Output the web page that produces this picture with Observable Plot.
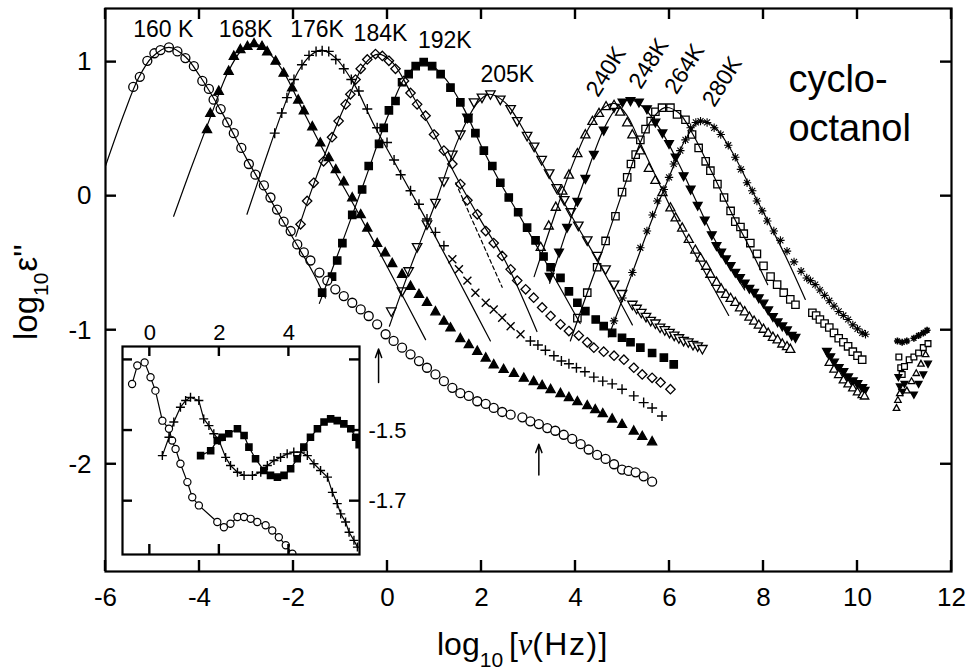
<!DOCTYPE html>
<html>
<head>
<meta charset="utf-8">
<script src="https://cdn.jsdelivr.net/npm/d3@7"></script>
<script src="https://cdn.jsdelivr.net/npm/@observablehq/plot@0.6"></script>
<style>
  html, body { margin: 0; padding: 0; background: white; }
  #fig { position: relative; width: 969px; height: 672px; overflow: hidden; }
  #fig > svg { position: absolute; }
</style>
</head>
<body>
<div id="fig"></div>
<script>
// ---------- axis ticks ----------
const xTicks = [-6, -4, -2, 0, 2, 4, 6, 8, 10, 12];
const yTicks = [-2, -1, 0, 1];
const insetXTicks = [0, 2, 4];
const insetYTicks = [-1.3, -1.5, -1.7];
const insetYLabels = [-1.5, -1.7];
const xDomain = [-6, 12], yDomain = [-2.8, 1.4];
const insetXDomain = [-0.786, 6.03], insetYDomain = [-1.851, -1.262];

// ---------- main data: [log10 nu, log10 eps''] ----------
const s160K = [[-5.41,0.815],[-5.27,0.89],[-5.11,1.01],[-4.96,1.066],[-4.83,1.09],[-4.65,1.11],[-4.47,1.08],[-4.30,1.03],[-4.12,0.97],[-3.94,0.86],[-3.80,0.80],[-3.70,0.72],[-3.55,0.65],[-3.41,0.55],[-3.27,0.47],[-3.11,0.36],[-2.95,0.24],[-2.81,0.16],[-2.63,0.08],[-2.49,-0.01],[-2.35,-0.10],[-2.21,-0.19],[-2.06,-0.26],[-1.92,-0.36],[-1.78,-0.42],[-1.64,-0.48],[-1.45,-0.57],[-1.28,-0.63],[-1.11,-0.695],[-0.93,-0.745],[-0.75,-0.795],[-0.57,-0.845],[-0.40,-0.894],[-0.22,-0.956],[-0.04,-1.03],[0.13,-1.08],[0.31,-1.13],[0.49,-1.18],[0.67,-1.23],[0.84,-1.28],[1.02,-1.33],[1.20,-1.38],[1.38,-1.43],[1.55,-1.47],[1.73,-1.49],[1.91,-1.53],[2.09,-1.55],[2.26,-1.58],[2.44,-1.61],[2.62,-1.63],[2.87,-1.65],[3.04,-1.68],[3.22,-1.70],[3.40,-1.73],[3.57,-1.75],[3.75,-1.78],[3.93,-1.81],[4.11,-1.85],[4.28,-1.89],[4.46,-1.93],[4.64,-1.96],[4.82,-2.00],[4.99,-2.04],[5.13,-2.05],[5.28,-2.06],[5.45,-2.09],[5.63,-2.13]];
const s168K = [[-3.84,0.50],[-3.77,0.62],[-3.59,0.785],[-3.38,0.934],[-3.27,1.046],[-3.13,1.096],[-2.98,1.12],[-2.84,1.14],[-2.67,1.12],[-2.56,1.08],[-2.38,1.01],[-2.21,0.92],[-2.03,0.81],[-1.90,0.72],[-1.78,0.64],[-1.60,0.52],[-1.43,0.40],[-1.25,0.29],[-1.10,0.20],[-0.93,0.11],[-0.75,-0.01],[-0.57,-0.135],[-0.43,-0.235],[-0.22,-0.35],[-0.05,-0.42],[0.10,-0.50],[0.31,-0.58],[0.49,-0.67],[0.67,-0.73],[0.84,-0.79],[1.02,-0.86],[1.20,-0.93],[1.34,-0.98],[1.55,-1.06],[1.73,-1.105],[1.91,-1.155],[2.09,-1.205],[2.26,-1.255],[2.47,-1.29],[2.69,-1.32],[2.90,-1.355],[3.11,-1.38],[3.29,-1.41],[3.47,-1.44],[3.68,-1.47],[3.86,-1.50],[4.04,-1.53],[4.25,-1.56],[4.42,-1.59],[4.58,-1.62],[4.78,-1.66],[4.99,-1.70],[5.24,-1.75],[5.42,-1.79],[5.63,-1.83]];
const s176K = [[-2.40,0.47],[-2.25,0.62],[-2.14,0.735],[-1.99,0.87],[-1.82,0.98],[-1.67,1.05],[-1.52,1.08],[-1.39,1.085],[-1.25,1.08],[-1.10,1.02],[-0.93,0.95],[-0.77,0.87],[-0.61,0.785],[-0.43,0.65],[-0.22,0.51],[-0.01,0.40],[0.14,0.27],[0.28,0.16],[0.49,0.04],[0.67,-0.06],[0.84,-0.17],[1.02,-0.27],[1.20,-0.37],[3.04,-1.08],[3.20,-1.11],[3.36,-1.15],[3.54,-1.19],[3.70,-1.23],[3.86,-1.25],[4.02,-1.28],[4.20,-1.31],[4.39,-1.35],[4.58,-1.38],[4.78,-1.40],[4.99,-1.44],[5.24,-1.49],[5.45,-1.54],[5.63,-1.58],[5.84,-1.64]];
const s176Kb = [[1.38,-0.47],[1.52,-0.545],[1.70,-0.63],[1.87,-0.72],[2.09,-0.795],[2.26,-0.845],[2.44,-0.907],[2.62,-0.97],[2.83,-1.03]];
const s184K = [[-1.85,-0.21],[-1.71,-0.036],[-1.57,0.10],[-1.36,0.26],[-1.18,0.44],[-1.04,0.56],[-0.89,0.685],[-0.79,0.76],[-0.68,0.87],[-0.57,0.95],[-0.43,1.02],[-0.255,1.06],[-0.11,1.046],[0.03,1.01],[0.17,0.95],[0.35,0.86],[0.49,0.77],[0.63,0.685],[0.81,0.60],[0.99,0.46],[1.20,0.34],[1.38,0.24],[1.55,0.09],[1.70,-0.03],[1.91,-0.135],[2.09,-0.26],[2.26,-0.35],[2.44,-0.446],[2.62,-0.546],[2.76,-0.63],[2.94,-0.695],[3.11,-0.757],[3.29,-0.83],[3.47,-0.894],[3.68,-0.956],[3.86,-1.006],[4.07,-1.04],[4.25,-1.09],[4.39,-1.13],[4.60,-1.16],[4.82,-1.19],[5.03,-1.22],[5.24,-1.28],[5.42,-1.33],[5.63,-1.355],[5.81,-1.39],[6.02,-1.44]];
const s192K = [[-1.39,-0.72],[-1.18,-0.60],[-1.07,-0.48],[-0.96,-0.35],[-0.75,-0.14],[-0.54,0.05],[-0.40,0.225],[-0.18,0.39],[-0.08,0.51],[0.03,0.64],[0.17,0.71],[0.31,0.85],[0.45,0.91],[0.60,0.97],[0.77,1.0],[0.95,0.97],[1.13,0.91],[1.34,0.81],[1.55,0.70],[1.72,0.58],[1.87,0.47],[2.05,0.34],[2.23,0.225],[2.40,0.10],[2.58,-0.01],[2.78,-0.12],[2.97,-0.235],[3.15,-0.33],[3.32,-0.45],[3.47,-0.53],[3.68,-0.61],[3.86,-0.71],[4.04,-0.795],[4.21,-0.857],[4.43,-0.92],[4.60,-0.97],[4.78,-1.02],[4.99,-1.056],[5.17,-1.09],[5.38,-1.13],[5.63,-1.17],[5.88,-1.205],[6.09,-1.255]];
const s205K = [[0.08,-0.86],[0.31,-0.71],[0.45,-0.56],[0.63,-0.38],[0.84,-0.21],[1.02,-0.05],[1.20,0.11],[1.38,0.31],[1.55,0.46],[1.70,0.585],[1.84,0.70],[2.01,0.735],[2.19,0.76],[2.40,0.72],[2.62,0.65],[2.76,0.56],[2.97,0.45],[3.12,0.37],[3.28,0.27],[3.44,0.17],[3.60,0.06],[3.76,-0.03],[3.90,-0.12],[4.06,-0.22],[4.25,-0.33],[4.46,-0.446],[4.64,-0.546],[4.82,-0.66],[4.99,-0.73],[5.21,-0.81],[5.30,-0.84],[5.40,-0.87],[5.50,-0.90],[5.60,-0.93],[5.70,-0.95],[5.80,-0.98],[5.90,-1.00],[6.00,-1.02],[6.10,-1.04],[6.20,-1.06],[6.30,-1.08],[6.40,-1.09],[6.50,-1.11],[6.60,-1.12],[6.70,-1.14]];
const s240K = [[3.26,-0.38],[3.43,-0.22],[3.58,-0.08],[3.72,0.04],[3.86,0.16],[4.04,0.32],[4.21,0.46],[4.36,0.56],[4.50,0.62],[4.65,0.67],[4.82,0.68],[4.95,0.63],[5.10,0.55],[5.21,0.46],[5.38,0.34],[5.56,0.21],[5.70,0.12],[5.85,0.03],[6.02,-0.085],[6.13,-0.16],[6.27,-0.235],[6.41,-0.32],[6.55,-0.40],[6.66,-0.46],[6.78,-0.52],[6.87,-0.58],[7.0,-0.64],[7.1,-0.69],[7.2,-0.73],[7.3,-0.76],[7.4,-0.79],[7.5,-0.83],[7.6,-0.86],[7.7,-0.90],[7.8,-0.93],[7.9,-0.96],[8.0,-0.99],[8.1,-1.02],[8.2,-1.05],[8.3,-1.07],[8.4,-1.10],[8.5,-1.12],[8.57,-1.14]];
const s248K = [[3.45,-0.60],[3.65,-0.42],[3.82,-0.235],[4.04,-0.04],[4.21,0.13],[4.39,0.31],[4.60,0.49],[4.82,0.66],[5.00,0.70],[5.17,0.71],[5.35,0.70],[5.52,0.65],[5.70,0.55],[5.85,0.47],[5.99,0.39],[6.13,0.29],[6.30,0.15],[6.45,0.05],[6.60,-0.07],[6.75,-0.18],[6.90,-0.29],[7.0,-0.37],[7.1,-0.42],[7.2,-0.47],[7.3,-0.52],[7.4,-0.57],[7.5,-0.61],[7.6,-0.65],[7.7,-0.69],[7.8,-0.72],[7.9,-0.76],[8.0,-0.80],[8.1,-0.85],[8.2,-0.90],[8.3,-0.94],[8.4,-0.97],[8.5,-1.00],[8.6,-1.04],[8.68,-1.056]];
const s264K = [[4.04,-0.91],[4.25,-0.72],[4.46,-0.53],[4.64,-0.334],[4.85,-0.15],[4.99,0.03],[5.10,0.14],[5.18,0.24],[5.28,0.31],[5.38,0.42],[5.49,0.50],[5.60,0.56],[5.70,0.63],[5.84,0.66],[6.02,0.66],[6.16,0.61],[6.34,0.57],[6.48,0.46],[6.62,0.36],[6.77,0.26],[6.87,0.19],[7.02,0.09],[7.16,-0.01],[7.30,-0.11],[7.40,-0.19],[7.51,-0.23],[7.58,-0.28],[7.72,-0.35],[7.86,-0.43],[8.0,-0.52],[8.15,-0.60],[8.29,-0.66],[8.43,-0.72],[8.57,-0.77],[8.68,-0.81],[9.04,-0.87],[9.12,-0.89],[9.2,-0.92],[9.3,-0.95],[9.4,-0.98],[9.5,-1.02],[9.6,-1.06],[9.7,-1.09],[9.8,-1.12],[9.9,-1.16],[10.0,-1.19],[10.1,-1.22]];
const s280K = [[4.82,-0.93],[5.00,-0.76],[5.21,-0.57],[5.38,-0.385],[5.52,-0.26],[5.64,-0.14],[5.74,-0.036],[5.88,0.05],[5.99,0.14],[6.09,0.24],[6.23,0.34],[6.34,0.42],[6.45,0.51],[6.56,0.55],[6.66,0.56],[6.80,0.55],[6.95,0.51],[7.09,0.46],[7.25,0.38],[7.40,0.29],[7.52,0.20],[7.65,0.10],[7.76,0.04],[7.86,-0.036],[7.97,-0.11],[8.08,-0.185],[8.22,-0.26],[8.36,-0.33],[8.50,-0.41],[8.65,-0.49],[8.80,-0.56],[8.92,-0.61],[9.0,-0.63],[9.1,-0.66],[9.2,-0.70],[9.3,-0.74],[9.4,-0.78],[9.5,-0.82],[9.6,-0.86],[9.7,-0.89],[9.8,-0.92],[9.9,-0.96],[10.0,-0.99],[10.1,-1.02],[10.17,-1.03]];
// high-frequency sets (240 K and 248 K) near 10^9.3 - 10^10.2 Hz
const hf248K = [[9.35,-1.16],[9.42,-1.20],[9.5,-1.24],[9.6,-1.28],[9.7,-1.31],[9.8,-1.35],[9.9,-1.38],[10.0,-1.40],[10.1,-1.43],[10.15,-1.45]];
const hf240K = [[9.4,-1.24],[9.5,-1.29],[9.6,-1.33],[9.7,-1.37],[9.8,-1.40],[9.9,-1.43],[10.0,-1.46],[10.1,-1.48],[10.15,-1.49]];
// far-infrared / THz sets
const thz280K = [[10.85,-1.08],[10.95,-1.09],[11.05,-1.08],[11.2,-1.06],[11.3,-1.04],[11.4,-1.02],[11.48,-1.0]];
const thz264K = [[10.88,-1.20],[10.92,-1.28],[10.95,-1.33],[11.0,-1.27],[11.1,-1.22],[11.2,-1.20],[11.3,-1.17],[11.4,-1.13],[11.5,-1.10]];
const thz248K = [[10.87,-1.35],[10.9,-1.42],[10.95,-1.46],[11.0,-1.40],[11.2,-1.48],[11.3,-1.40],[11.4,-1.33],[11.5,-1.25]];
const thz240K = [[10.83,-1.58],[10.86,-1.52],[10.9,-1.47],[11.05,-1.45],[11.15,-1.38],[11.25,-1.32],[11.35,-1.25],[11.45,-1.18]];

// ---------- fit curves ----------
const fit160K = [[-6.0,0.225],[-5.6,0.62],[-5.3,0.88],[-5.0,1.04],[-4.65,1.11],[-4.3,1.04],[-4.0,0.90],[-3.5,0.61],[-3.0,0.28],[-2.5,-0.02],[-2.0,-0.32],[-1.6,-0.56],[-1.32,-0.76]];
const fit168K = [[-4.55,-0.15],[-4.2,0.19],[-3.8,0.56],[-3.4,0.92],[-3.1,1.09],[-2.84,1.14],[-2.5,1.06],[-2.2,0.92],[-1.8,0.64],[-1.3,0.30],[-0.6,-0.14],[0.0,-0.53],[0.81,-1.07]];
const fit176K = [[-2.99,-0.135],[-2.6,0.27],[-2.2,0.67],[-1.9,0.93],[-1.6,1.06],[-1.4,1.09],[-1.1,1.03],[-0.7,0.83],[-0.3,0.54],[0.2,0.22],[0.8,-0.16],[1.5,-0.62],[2.19,-1.08]];
const fit184K = [[-1.95,-0.30],[-1.6,0.06],[-1.2,0.43],[-0.8,0.76],[-0.5,0.98],[-0.2,1.06],[0.1,1.0],[0.5,0.77],[1.0,0.46],[1.5,0.12],[2.0,-0.19],[2.5,-0.48],[3.18,-1.01]];
const fit184Kdash = [[1.45,0.10],[2.44,-0.68]];
const fit192K = [[-1.45,-0.80],[-1.0,-0.38],[-0.5,0.10],[0.0,0.59],[0.4,0.90],[0.8,1.0],[1.2,0.89],[1.6,0.67],[2.0,0.37],[2.4,0.10],[2.8,-0.14],[3.3,-0.45],[4.1,-0.95]];
const fit205K = [[0.04,-0.97],[0.5,-0.52],[1.0,-0.07],[1.5,0.42],[1.9,0.69],[2.15,0.76],[2.5,0.70],[3.0,0.43],[3.5,0.11],[4.0,-0.20],[4.5,-0.50],[5.21,-0.96]];
const fit240K = [[3.12,-0.60],[3.5,-0.20],[3.9,0.20],[4.3,0.52],[4.6,0.66],[4.85,0.69],[5.1,0.60],[5.4,0.38],[5.8,0.08],[6.2,-0.21],[6.6,-0.47],[7.26,-0.89]];
const fit248K = [[3.45,-0.65],[3.82,-0.25],[4.2,0.13],[4.6,0.50],[4.9,0.67],[5.17,0.72],[5.45,0.66],[5.8,0.50],[6.2,0.24],[6.6,-0.06],[7.0,-0.35],[7.6,-0.70]];
const fit264K = [[3.89,-1.08],[4.25,-0.72],[4.65,-0.33],[5.0,0.03],[5.3,0.33],[5.6,0.56],[5.9,0.66],[6.2,0.62],[6.5,0.46],[6.9,0.18],[7.3,-0.11],[7.7,-0.38],[8.09,-0.66]];
const fit280K = [[4.70,-1.05],[5.2,-0.58],[5.6,-0.20],[6.0,0.15],[6.35,0.43],[6.65,0.56],[6.95,0.52],[7.3,0.35],[7.7,0.08],[8.1,-0.19],[8.5,-0.47],[8.89,-0.77]];

// ---------- annotations ----------
const tempLabels = ["160 K", "168K", "176K", "184K", "192K", "205K"];
const tempLabelX = [-4.77, -3.02, -1.50, -0.15, 1.22, 2.55];
const tempLabelY = [1.244, 1.244, 1.244, 1.214, 1.158, 0.91];
const rotLabels = ["240K", "248K", "264K", "280K"];
const rotLabelX = [4.65, 5.56, 6.32, 7.12];
const rotLabelY = [0.93, 0.99, 0.95, 0.855];
const nameLines = ["cyclo-", "octanol"];
const nameX = [8.53, 8.53];
const nameY = [0.78, 0.41];
const arrowX = [-0.19, 3.22];
const arrowYFrom = [-1.39, -2.08];
const arrowYTo = [-1.14, -1.85];

// ---------- inset data ----------
const inCircles = [[-0.51,-1.368],[-0.36,-1.316],[-0.15,-1.307],[0.02,-1.349],[0.16,-1.387],[0.36,-1.472],[0.55,-1.495],[0.64,-1.528],[0.74,-1.552],[0.88,-1.594],[1.08,-1.646],[1.22,-1.689],[1.41,-1.712],[1.94,-1.759],[2.13,-1.774],[2.32,-1.764],[2.52,-1.745],[2.71,-1.745],[2.90,-1.75],[3.09,-1.759],[3.33,-1.768],[3.52,-1.783],[3.71,-1.802],[3.91,-1.825],[4.10,-1.849]];
const inCrosses = [[0.36,-1.571],[0.55,-1.519],[0.69,-1.476],[0.88,-1.434],[1.03,-1.415],[1.17,-1.406],[1.41,-1.415],[1.55,-1.467],[1.70,-1.486],[1.84,-1.509],[1.99,-1.528],[2.18,-1.576],[2.32,-1.599],[2.52,-1.618],[2.71,-1.627],[2.95,-1.627],[3.19,-1.618],[3.38,-1.599],[3.57,-1.585],[3.76,-1.576],[3.95,-1.566],[4.14,-1.561],[4.34,-1.561],[4.53,-1.571],[4.72,-1.594],[4.91,-1.613],[5.11,-1.632],[5.25,-1.675],[5.39,-1.707],[5.49,-1.736],[5.63,-1.759],[5.73,-1.788],[5.87,-1.811],[5.97,-1.83]];
const inSquares = [[1.46,-1.571],[1.75,-1.557],[1.94,-1.528],[2.08,-1.519],[2.27,-1.509],[2.52,-1.495],[2.71,-1.514],[2.85,-1.547],[3.04,-1.58],[3.28,-1.613],[3.47,-1.627],[3.67,-1.632],[3.86,-1.627],[4.05,-1.608],[4.24,-1.58],[4.43,-1.547],[4.62,-1.519],[4.82,-1.495],[5.01,-1.476],[5.20,-1.467],[5.39,-1.472],[5.58,-1.481],[5.78,-1.495],[5.92,-1.519],[6.02,-1.54]];

// ---------- marker shapes ----------
const R = s => Math.sqrt(s / Math.PI);
const triUp = {draw(c, s) { const r = R(s); c.moveTo(0, -r); c.lineTo(r * 0.95, r * 0.7); c.lineTo(-r * 0.95, r * 0.7); c.closePath(); }};
const triDown = {draw(c, s) { const r = R(s); c.moveTo(0, r); c.lineTo(r * 0.95, -r * 0.7); c.lineTo(-r * 0.95, -r * 0.7); c.closePath(); }};
const diamond = {draw(c, s) { const r = R(s); c.moveTo(0, -r); c.lineTo(r, 0); c.lineTo(0, r); c.lineTo(-r, 0); c.closePath(); }};
const square = {draw(c, s) { const r = R(s) * 0.8; c.moveTo(-r, -r); c.lineTo(r, -r); c.lineTo(r, r); c.lineTo(-r, r); c.closePath(); }};
const plus = {draw(c, s) { const r = R(s); c.moveTo(-r, 0); c.lineTo(r, 0); c.moveTo(0, -r); c.lineTo(0, r); }};
const times = {draw(c, s) { const r = R(s) * 0.75; c.moveTo(-r, -r); c.lineTo(r, r); c.moveTo(-r, r); c.lineTo(r, -r); }};
const aster = {draw(c, s) { const r = R(s); for (let k = 0; k < 4; k++) { const a = k * Math.PI / 4; c.moveTo(-r * Math.cos(a), -r * Math.sin(a)); c.lineTo(r * Math.cos(a), r * Math.sin(a)); } }};

const X = d => d[0], Y = d => d[1];
const dots = (data, symbol, r, fill, sw = 1.3) =>
  Plot.dot(data, {x: X, y: Y, symbol, r, fill, stroke: "black", strokeWidth: sw, clip: true});
const fit = (data, extra = {}) =>
  Plot.line(data, {x: X, y: Y, curve: "catmull-rom", stroke: "black", strokeWidth: 1.2, clip: true, ...extra});

// inward ticks on all four sides, drawn with the plot's own x / y scales
function addInwardTicks(plot, xt, yt, len) {
  const sx = plot.scale("x"), sy = plot.scale("y");
  const fx = typeof sx.apply === "function" ? v => sx.apply(v) : d3.scaleLinear(sx.domain, sx.range);
  const fy = typeof sy.apply === "function" ? v => sy.apply(v) : d3.scaleLinear(sy.domain, sy.range);
  const [xl, xr] = sx.range, [yb, ytop] = sy.range;
  const g = d3.select(plot).append("g").attr("stroke", "black").attr("stroke-width", 2.4).attr("fill", "none");
  for (const v of xt) {
    const p = fx(v);
    g.append("line").attr("x1", p).attr("x2", p).attr("y1", yb).attr("y2", yb - len);
    g.append("line").attr("x1", p).attr("x2", p).attr("y1", ytop).attr("y2", ytop + len);
  }
  for (const v of yt) {
    const p = fy(v);
    g.append("line").attr("y1", p).attr("y2", p).attr("x1", xl).attr("x2", xl + len);
    g.append("line").attr("y1", p).attr("y2", p).attr("x1", xr).attr("x2", xr - len);
  }
}

const FONT = "'Liberation Sans', Arial, Helvetica, sans-serif";
const W = 969, H = 672, ML = 105, MR = 18, MT = 8, MB = 101, TICK = 11;

const main = Plot.plot({
  width: W, height: H,
  marginLeft: ML, marginRight: MR, marginTop: MT, marginBottom: MB,
  x: {domain: xDomain},
  y: {domain: yDomain},
  style: {fontFamily: FONT, fontSize: "26px", color: "black", background: "white", overflow: "visible"},
  marks: [
    // markers
    dots(s280K, aster, 4.2, "none", 1.1),
    dots(s264K, square, 4.6, "white"),
    dots(s248K, triDown, 4.6, "black"),
    dots(s240K, triUp, 4.8, "white"),
    dots(hf248K, triDown, 4.6, "black"),
    dots(hf240K, triUp, 4.4, "white"),
    dots(thz280K, aster, 3.5, "none", 1.6),
    dots(thz264K, square, 3.6, "white"),
    dots(thz248K, triDown, 3.6, "black"),
    dots(thz240K, triUp, 3.4, "white"),
    dots(s205K, triDown, 5, "white"),
    dots(s192K, square, 4.6, "black"),
    dots(s184K, diamond, 4.7, "white"),
    dots(s176K, plus, 5, "none", 1.4),
    dots(s176Kb, times, 5.3, "none", 1.4),
    dots(s168K, triUp, 4.8, "black"),
    dots(s160K, "circle", 4.5, "white"),
    // fitted curves
    fit(fit160K), fit(fit168K), fit(fit176K), fit(fit184K), fit(fit192K), fit(fit205K),
    fit(fit240K), fit(fit248K), fit(fit264K), fit(fit280K),
    fit(fit184Kdash, {curve: "linear", strokeDasharray: "4,3"}),
    // arrows
    Plot.arrow(arrowX, {x1: d => d, x2: d => d, y1: (d, i) => arrowYFrom[i], y2: (d, i) => arrowYTo[i], stroke: "black", strokeWidth: 1.5, headLength: 9, headAngle: 40}),
    // labels
    Plot.text(tempLabels, {x: (d, i) => tempLabelX[i], y: (d, i) => tempLabelY[i], text: d => d, fontSize: 23, fill: "black"}),
    Plot.text(rotLabels, {x: (d, i) => rotLabelX[i], y: (d, i) => rotLabelY[i], text: d => d, fontSize: 23, rotate: -58, fill: "black"}),
    Plot.text(nameLines, {x: (d, i) => nameX[i], y: (d, i) => nameY[i], text: d => d, fontSize: 38, textAnchor: "start", lineAnchor: "bottom", fill: "black"}),
    // frame and tick labels
    Plot.frame({stroke: "black", strokeWidth: 2.2}),
    Plot.axisX(xTicks, {anchor: "bottom", tickSize: 0, tickPadding: 16, tickFormat: d => String(d), label: null, fontSize: 26}),
    Plot.axisY(yTicks, {anchor: "left", tickSize: 0, tickPadding: 14, tickFormat: d => String(d), label: null, fontSize: 26})
  ]
});
main.style.left = "0px"; main.style.top = "0px";
addInwardTicks(main, xTicks, yTicks, TICK);

// axis titles with subscripts, as real SVG text
const ms = d3.select(main);
const yt = ms.append("text").attr("transform", "translate(37,340) rotate(-90)")
  .attr("text-anchor", "start").attr("font-family", FONT).attr("font-size", 33).attr("fill", "black");
yt.append("tspan").text("log");
yt.append("tspan").attr("font-size", 21).attr("dy", 11).text("10");
yt.append("tspan").attr("dy", -11).attr("dx", 1).text("ε''");
const xt = ms.append("text").attr("transform", "translate(437,655)")
  .attr("text-anchor", "start").attr("font-family", FONT).attr("font-size", 32).attr("fill", "black");
xt.append("tspan").text("log");
xt.append("tspan").attr("font-size", 21).attr("dy", 12).text("10");
xt.append("tspan").attr("dy", -12).attr("dx", 6).text("[");
xt.append("tspan").attr("font-family", "'Liberation Serif', serif").attr("font-style", "italic").text("ν");
xt.append("tspan").attr("letter-spacing", 1.5).text("(Hz)]");

// ---------- inset ----------
const IW = 317, IH = 258, IML = 10, IMR = 70, IMT = 40, IMB = 10;
const inset = Plot.plot({
  width: IW, height: IH,
  marginLeft: IML, marginRight: IMR, marginTop: IMT, marginBottom: IMB,
  x: {domain: insetXDomain},
  y: {domain: insetYDomain},
  style: {fontFamily: FONT, fontSize: "22px", color: "black", background: "transparent", overflow: "visible"},
  marks: [
    Plot.frame({fill: "white", stroke: "none"}),
    Plot.line(inCircles, {x: X, y: Y, stroke: "black", strokeWidth: 1.2, clip: true}),
    Plot.line(inCrosses, {x: X, y: Y, stroke: "black", strokeWidth: 1.2, clip: true}),
    Plot.line(inSquares, {x: X, y: Y, stroke: "black", strokeWidth: 1.2, clip: true}),
    Plot.dot(inCircles, {x: X, y: Y, r: 3.6, fill: "white", stroke: "black", strokeWidth: 1.2, clip: true}),
    Plot.dot(inSquares, {x: X, y: Y, symbol: square, r: 3.8, fill: "black", stroke: "black", clip: true}),
    Plot.dot(inCrosses, {x: X, y: Y, symbol: plus, r: 4.5, stroke: "black", strokeWidth: 1.4, clip: true}),
    Plot.frame({stroke: "black", strokeWidth: 2.2}),
    Plot.axisX(insetXTicks, {anchor: "top", tickSize: 0, tickPadding: 7, tickFormat: d => String(d), label: null, fontSize: 22}),
    Plot.axisY(insetYLabels, {anchor: "right", tickSize: 0, tickPadding: 9, tickFormat: d => String(d), label: null, fontSize: 22})
  ]
});
inset.style.left = (122 - IML) + "px"; inset.style.top = (346 - IMT) + "px";
addInwardTicks(inset, insetXTicks, insetYTicks, 10);

const fig = document.getElementById("fig");
fig.appendChild(main);
fig.appendChild(inset);
</script>
</body>
</html>
